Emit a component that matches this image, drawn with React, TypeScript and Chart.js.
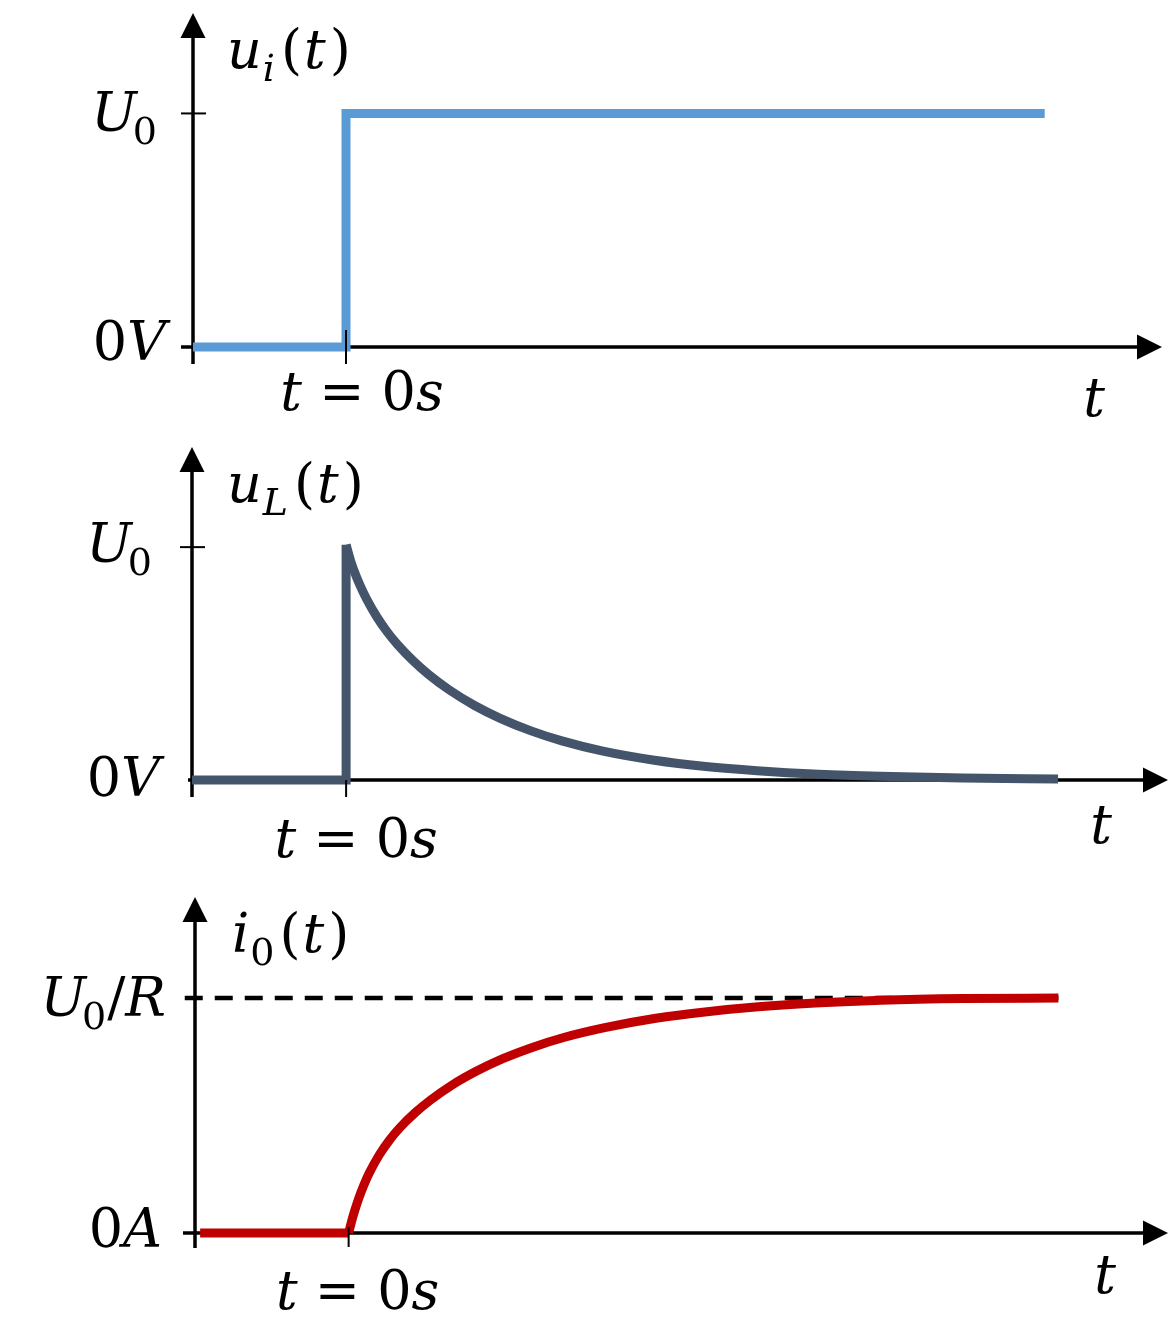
import React, { useEffect, useRef } from "react";
import { Chart, registerables } from "chart.js";

Chart.register(...registerables);

// ---------- shared axis ranges ----------
const X_MIN = -1.5;
const X_MAX = 8;
const Y_MAX = 1.43;

// ---------- panel 1: u_i(t) ----------
const inputTimes = [-1.5, 0, 0, 6.85];
const inputValues = [0, 0, 1, 1];

// ---------- panel 2: u_L(t) ----------
const inductorStepTimes = [-1.5, 0, 0];
const inductorStepValues = [0, 0, 1.01];
const inductorDecayTimes = [0, 0.05, 0.1, 0.15, 0.2, 0.3, 0.4, 0.5, 0.65, 0.8, 1.0, 1.25, 1.5, 1.8, 2.1, 2.5, 3.0, 3.5, 4.0, 4.6, 5.2, 6.0, 6.93];
const inductorDecayValues = [1.01, 0.932, 0.873, 0.822, 0.777, 0.7, 0.636, 0.582, 0.513, 0.454, 0.388, 0.32, 0.265, 0.211, 0.168, 0.124, 0.085, 0.058, 0.04, 0.025, 0.016, 0.009, 0.004];

// ---------- panel 3: i_0(t) ----------
const currentStepTimes = [-1.45, 0];
const currentStepValues = [0, 0];
const currentRiseTimes = [0, 0.03, 0.06, 0.1, 0.15, 0.2, 0.3, 0.4, 0.5, 0.65, 0.8, 1.0, 1.25, 1.5, 1.8, 2.1, 2.5, 3.0, 3.5, 4.0, 4.6, 5.2, 6.0, 6.93];
const currentRiseValues = [0, 0.051, 0.096, 0.149, 0.205, 0.254, 0.333, 0.396, 0.448, 0.512, 0.566, 0.627, 0.689, 0.741, 0.791, 0.832, 0.874, 0.914, 0.942, 0.963, 0.98, 0.991, 0.998, 1.0];
const steadyTimes = [-1.6, 6.93];
const steadyValues = [1, 1];

// ---------- labels ----------
type Run = { t: string; it?: boolean; sub?: boolean; dx?: number };
const titleInput: Run[] = [{ t: "u", it: true }, { t: "i", it: true, sub: true, dx: 1 }, { t: "(", dx: 6 }, { t: "t", it: true, dx: 2 }, { t: ")", dx: 4 }];
const titleInductor: Run[] = [{ t: "u", it: true }, { t: "L", it: true, sub: true, dx: 1 }, { t: "(", dx: 6 }, { t: "t", it: true, dx: 2 }, { t: ")", dx: 4 }];
const titleCurrent: Run[] = [{ t: "i", it: true }, { t: "0", sub: true, dx: 1 }, { t: "(", dx: 5 }, { t: "t", it: true, dx: 2 }, { t: ")", dx: 4 }];
const tickU0: Run[] = [{ t: "U", it: true }, { t: "0", sub: true, dx: -4 }];
const tickU0R: Run[] = [{ t: "U", it: true }, { t: "0", sub: true, dx: -4 }, { t: "/", dx: 1 }, { t: "R", it: true }];
const tick0V: Run[] = [{ t: "0" }, { t: "V", it: true }];
const tick0A: Run[] = [{ t: "0" }, { t: "A", it: true }];
const tickT0: Run[] = [{ t: "t", it: true }, { t: " = " }, { t: "0" }, { t: "s", it: true }];
const axisT: Run[] = [{ t: "t", it: true }];

const FONT_SIZE = 54;
const FAMILY = "'DejaVu Serif', serif";

function drawRuns(ctx: CanvasRenderingContext2D, runs: Run[], x: number, y: number, align: "left" | "right" | "center") {
  const fontFor = (r: Run) => `${r.it ? "italic " : ""}${r.sub ? Math.round(FONT_SIZE * 0.7) : FONT_SIZE}px ${FAMILY}`;
  let total = 0;
  const widths = runs.map((r) => {
    ctx.font = fontFor(r);
    const w = ctx.measureText(r.t).width;
    total += w + (r.dx || 0);
    return w;
  });
  let cx = align === "left" ? x : align === "right" ? x - total : x - total / 2;
  ctx.fillStyle = "#000";
  ctx.textBaseline = "alphabetic";
  ctx.textAlign = "left";
  runs.forEach((r, i) => {
    ctx.font = fontFor(r);
    cx += r.dx || 0;
    ctx.fillText(r.t, cx, y + (r.sub ? FONT_SIZE * 0.24 : 0));
    cx += widths[i];
  });
}

type PanelSpec = {
  height: number;
  padding: { left: number; right: number; top: number; bottom: number };
  datasets: any[];
  title: Run[];
  topTick: Run[];
  zeroTick: Run[];
  geom: {
    below: number;
    leftExt: number;
    uTick: [number, number];
    t0Tick: [number, number];
    uLabel: [number, number];
    zeroLabel: [number, number];
    t0Label: [number, number];
    title: [number, number];
    tLabel: [number, number];
  };
};

function series(times: number[], values: number[], extra: any) {
  return {
    data: times.map((t, i) => ({ x: t, y: values[i] })),
    pointRadius: 0,
    fill: false,
    clip: false,
    tension: 0,
    borderJoinStyle: "miter",
    borderCapStyle: "butt",
    ...extra,
  };
}

const LINE_W = 9;

const panels: PanelSpec[] = [
  {
    height: 430,
    padding: { left: 193, right: 8, top: 13, bottom: 83 },
    datasets: [series(inputTimes, inputValues, { borderColor: "#5B9BD5", borderWidth: LINE_W })],
    title: titleInput,
    topTick: tickU0,
    zeroTick: tick0V,
    geom: {
      below: 17,
      leftExt: 12,
      uTick: [-12, 13],
      t0Tick: [-17, 17],
      uLabel: [-36, 18],
      zeroLabel: [-27, 13],
      t0Label: [16, 63],
      title: [34, 55],
      tLabel: [-68, 69],
    },
  },
  {
    height: 440,
    padding: { left: 192, right: 2, top: 17, bottom: 90 },
    datasets: [
      series(inductorStepTimes, inductorStepValues, { borderColor: "#44546A", borderWidth: LINE_W }),
      series(inductorDecayTimes, inductorDecayValues, { borderColor: "#44546A", borderWidth: LINE_W, cubicInterpolationMode: "monotone" }),
    ],
    title: titleInductor,
    topTick: tickU0,
    zeroTick: tick0V,
    geom: {
      below: 17,
      leftExt: 4,
      uTick: [-12, 13],
      t0Tick: [0, 17],
      uLabel: [-40, 15],
      zeroLabel: [-32, 16],
      t0Label: [10, 77],
      title: [35, 55],
      tLabel: [-67, 63],
    },
  },
  {
    height: 470,
    padding: { left: 195, right: 2, top: 27, bottom: 107 },
    datasets: [
      series(currentStepTimes, currentStepValues, { borderColor: "#C00000", borderWidth: LINE_W }),
      series(currentRiseTimes, currentRiseValues, { borderColor: "#C00000", borderWidth: LINE_W, cubicInterpolationMode: "monotone" }),
      series(steadyTimes, steadyValues, { borderColor: "#000000", borderWidth: 4.5, borderDash: [18, 12], order: 5 }),
    ],
    title: titleCurrent,
    topTick: tickU0R,
    zeroTick: tick0A,
    geom: {
      below: 15,
      leftExt: 12,
      uTick: [-10, 5],
      t0Tick: [-6, 14],
      uLabel: [-29, 18],
      zeroLabel: [-33, 14],
      t0Label: [9, 76],
      title: [37, 55],
      tLabel: [-63, 60],
    },
  },
];

function Panel({ spec }: { spec: PanelSpec }) {
  const ref = useRef<HTMLCanvasElement | null>(null);
  useEffect(() => {
    if (!ref.current) return;
    const g = spec.geom;
    const axesPlugin = {
      id: "arrowAxes",
      beforeDatasetsDraw(chart: any) {
        const ctx: CanvasRenderingContext2D = chart.ctx;
        const xs = chart.scales.x;
        const ys = chart.scales.y;
        const ax = xs.getPixelForValue(X_MIN);
        const tip = xs.getPixelForValue(X_MAX);
        const y0 = ys.getPixelForValue(0);
        const yTop = ys.getPixelForValue(Y_MAX);
        const yU = ys.getPixelForValue(1);
        ctx.save();
        ctx.strokeStyle = "#000";
        ctx.fillStyle = "#000";
        ctx.lineWidth = 3.5;
        ctx.beginPath();
        ctx.moveTo(ax, y0 + g.below);
        ctx.lineTo(ax, yTop + 22);
        ctx.moveTo(ax - g.leftExt, y0);
        ctx.lineTo(tip - 22, y0);
        ctx.stroke();
        ctx.beginPath();
        ctx.moveTo(ax, yTop);
        ctx.lineTo(ax - 12.5, yTop + 25);
        ctx.lineTo(ax + 12.5, yTop + 25);
        ctx.closePath();
        ctx.fill();
        ctx.beginPath();
        ctx.moveTo(tip, y0);
        ctx.lineTo(tip - 25, y0 - 12.5);
        ctx.lineTo(tip - 25, y0 + 12.5);
        ctx.closePath();
        ctx.fill();
        ctx.lineWidth = 2;
        ctx.beginPath();
        ctx.moveTo(ax + g.uTick[0], yU);
        ctx.lineTo(ax + g.uTick[1], yU);
        ctx.stroke();
        ctx.restore();
      },
      afterDatasetsDraw(chart: any) {
        const ctx: CanvasRenderingContext2D = chart.ctx;
        const xs = chart.scales.x;
        const ys = chart.scales.y;
        const x0 = xs.getPixelForValue(0);
        const y0 = ys.getPixelForValue(0);
        ctx.save();
        ctx.strokeStyle = "#000";
        ctx.lineWidth = 2;
        ctx.beginPath();
        ctx.moveTo(x0, y0 + g.t0Tick[0]);
        ctx.lineTo(x0, y0 + g.t0Tick[1]);
        ctx.stroke();
        ctx.restore();
      },
      afterDraw(chart: any) {
        const ctx: CanvasRenderingContext2D = chart.ctx;
        const xs = chart.scales.x;
        const ys = chart.scales.y;
        const ax = xs.getPixelForValue(X_MIN);
        const tip = xs.getPixelForValue(X_MAX);
        const x0 = xs.getPixelForValue(0);
        const y0 = ys.getPixelForValue(0);
        const yU = ys.getPixelForValue(1);
        const yTop = ys.getPixelForValue(Y_MAX);
        ctx.save();
        drawRuns(ctx, spec.topTick, ax + g.uLabel[0], yU + g.uLabel[1], "right");
        drawRuns(ctx, spec.zeroTick, ax + g.zeroLabel[0], y0 + g.zeroLabel[1], "right");
        drawRuns(ctx, tickT0, x0 + g.t0Label[0], y0 + g.t0Label[1], "center");
        drawRuns(ctx, spec.title, ax + g.title[0], yTop + g.title[1], "left");
        drawRuns(ctx, axisT, tip + g.tLabel[0], y0 + g.tLabel[1], "center");
        ctx.restore();
      },
    };
    const chart = new Chart(ref.current, {
      type: "line",
      data: { datasets: spec.datasets },
      options: {
        animation: false,
        responsive: false,
        maintainAspectRatio: false,
        devicePixelRatio: 1,
        layout: { padding: spec.padding },
        plugins: { legend: { display: false }, tooltip: { enabled: false } },
        scales: {
          x: { type: "linear", min: X_MIN, max: X_MAX, display: false },
          y: { type: "linear", min: 0, max: Y_MAX, display: false },
        },
        elements: { point: { radius: 0 } },
      } as any,
      plugins: [axesPlugin],
    });
    return () => chart.destroy();
  }, [spec]);
  return <canvas ref={ref} width={1170} height={spec.height} style={{ display: "block", width: 1170, height: spec.height }} />;
}

export default function App() {
  useEffect(() => {
    document.body.style.margin = "0";
  }, []);
  return (
    <div style={{ position: "absolute", left: 0, top: 0, width: 1170, height: 1340, background: "#fff" }}>
      {panels.map((p, i) => (
        <Panel key={i} spec={p} />
      ))}
    </div>
  );
}
